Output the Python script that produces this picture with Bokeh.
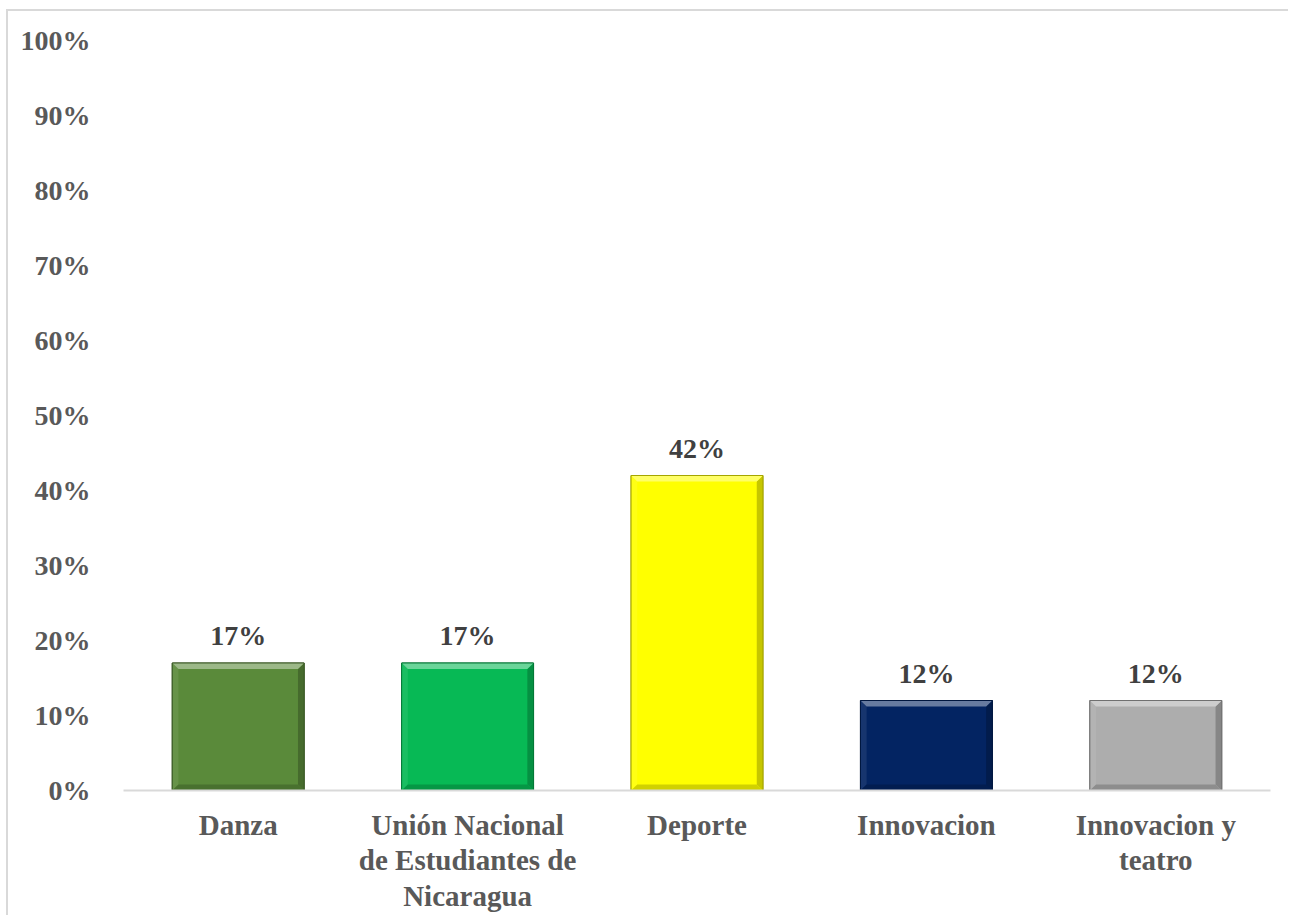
from bokeh.plotting import figure
from bokeh.models import Range1d, FixedTicker, NumeralTickFormatter, ColumnDataSource
from bokeh.core.properties import value
from bokeh.embed import file_html
from bokeh.resources import INLINE

categories = ["Danza", "Unión Nacional\nde Estudiantes de\nNicaragua", "Deporte", "Innovacion", "Innovacion y\nteatro"]
values = [0.17, 0.17, 0.42, 0.12, 0.12]
bar_colors = ["#5a8a3a", "#07b955", "#ffff00", "#032462", "#adadad"]
y_ticks = [0.0, 0.1, 0.2, 0.3, 0.4, 0.5, 0.6, 0.7, 0.8, 0.9, 1.0]

FONT = "Liberation Serif"


def shade(hex_color, f):
    h = hex_color.lstrip("#")
    r, g, b = int(h[0:2], 16), int(h[2:4], 16), int(h[4:6], 16)
    if f >= 0:
        r, g, b = [int(c + (255 - c) * f) for c in (r, g, b)]
    else:
        r, g, b = [int(c * (1 + f)) for c in (r, g, b)]
    return "#%02x%02x%02x" % (r, g, b)


p = figure(width=1282, height=906, output_backend="svg", toolbar_location=None,
           x_range=Range1d(-0.5, 4.5), y_range=Range1d(0, 1),
           min_border_left=115, min_border_right=20, min_border_top=29, min_border_bottom=127)
p.styles = {"margin-left": "6px", "margin-top": "9px",
            "border-left": "2px solid #d9d9d9", "border-top": "2px solid #d9d9d9"}
p.outline_line_color = None
p.xgrid.visible = False
p.ygrid.visible = False
p.background_fill_color = "white"
p.border_fill_color = "white"

xs = list(range(len(categories)))
w = 0.575
dx, dy = 0.027, 0.008

src = ColumnDataSource(dict(x=xs, top=values, color=bar_colors,
                            line=[shade(c, -0.35) for c in bar_colors],
                            label=["%d%%" % round(v * 100) for v in values]))
p.vbar(x="x", top="top", bottom=0, width=w, fill_color="color", line_color="line",
       line_width=1, source=src)

# bevel facets
top_x, top_y, top_c = [], [], []
bot_x, bot_y, bot_c = [], [], []
rt_x, rt_y, rt_c = [], [], []
lf_x, lf_y, lf_c = [], [], []
for x, v, c in zip(xs, values, bar_colors):
    x0, x1 = x - w / 2, x + w / 2
    top_x.append([x0, x1, x1 - dx, x0 + dx]); top_y.append([v, v, v - dy, v - dy]); top_c.append(shade(c, 0.4))
    bot_x.append([x0, x1, x1 - dx, x0 + dx]); bot_y.append([0, 0, dy, dy]); bot_c.append(shade(c, -0.18))
    rt_x.append([x1, x1, x1 - dx, x1 - dx]); rt_y.append([0, v, v - dy, dy]); rt_c.append(shade(c, -0.22))
    lf_x.append([x0, x0, x0 + dx, x0 + dx]); lf_y.append([0, v, v - dy, dy]); lf_c.append(shade(c, 0.08))
p.patches(lf_x, lf_y, fill_color=lf_c, line_color=None)
p.patches(rt_x, rt_y, fill_color=rt_c, line_color=None)
p.patches(bot_x, bot_y, fill_color=bot_c, line_color=None)
p.patches(top_x, top_y, fill_color=top_c, line_color=None)
p.vbar(x="x", top="top", bottom=0, width=w, fill_color=None, line_color="line",
       line_width=1, source=src)

p.text(x="x", y="top", text="label", source=src, text_align="center", text_baseline="bottom",
       y_offset=-12, text_font=value(FONT), text_font_style="bold", text_font_size="28px",
       text_color="#404040")

# axes
p.yaxis.ticker = FixedTicker(ticks=y_ticks)
p.yaxis.formatter = NumeralTickFormatter(format="0%")
p.yaxis.axis_line_color = None
p.yaxis.major_tick_line_color = None
p.yaxis.minor_tick_line_color = None
p.yaxis.major_label_standoff = 27
p.yaxis.major_label_text_font = FONT
p.yaxis.major_label_text_font_style = "bold"
p.yaxis.major_label_text_font_size = "28px"
p.yaxis.major_label_text_color = "#595959"

p.xaxis.ticker = FixedTicker(ticks=xs)
p.xaxis.major_label_overrides = {i: c for i, c in enumerate(categories)}
p.xaxis.axis_line_color = "#d9d9d9"
p.xaxis.axis_line_width = 2
p.xaxis.major_tick_line_color = None
p.xaxis.minor_tick_line_color = None
p.xaxis.major_label_standoff = 12
p.xaxis.major_label_text_font = FONT
p.xaxis.major_label_text_font_style = "bold"
p.xaxis.major_label_text_font_size = "29px"
p.xaxis.major_label_text_color = "#595959"
p.xaxis.major_label_text_line_height = 1.12

open("out.html", "w").write(file_html(p, INLINE))
